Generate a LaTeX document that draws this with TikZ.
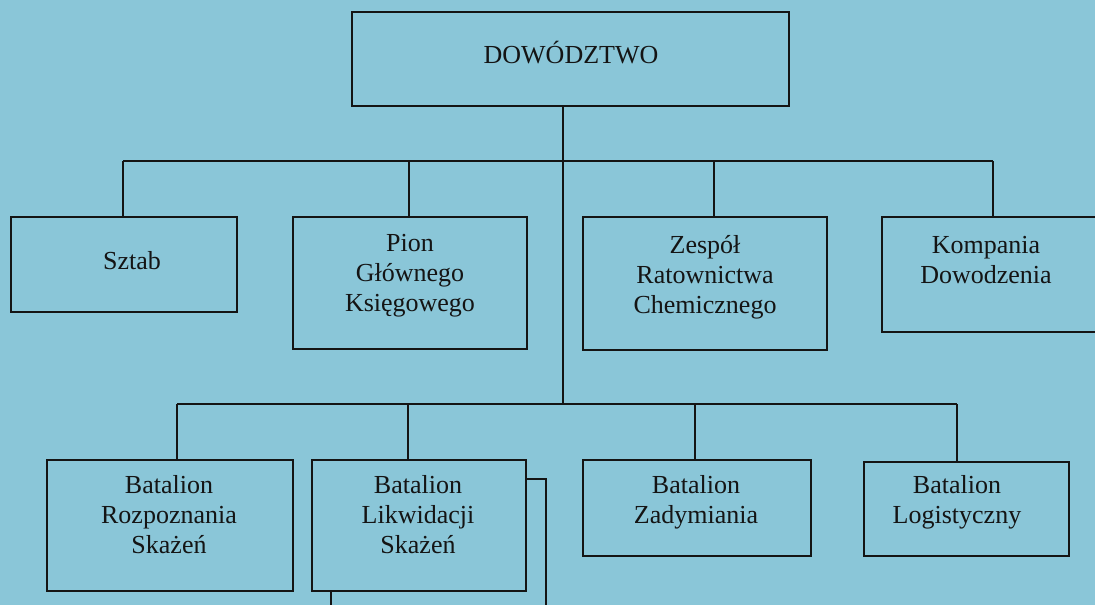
\documentclass[tikz,border=0pt]{standalone}
\usepackage{fontspec}
\setmainfont{Liberation Serif}
\definecolor{bgblue}{RGB}{138,198,216}
\definecolor{ink}{RGB}{20,20,20}
\begin{document}
\begin{tikzpicture}[x=1pt,y=1pt,
  box/.style={draw=ink, line width=1.5pt, inner sep=0pt, anchor=center},
  lbl/.style={font=\fontsize{26}{30}\selectfont, align=center, inner sep=0pt, anchor=base, text=ink},
  conn/.style={draw=ink, line width=1.5pt}]
\useasboundingbox (0,0) rectangle (1095,-605);
\fill[bgblue] (0,0) rectangle (1095,-605);
% boxes
\node[box, minimum width=437pt, minimum height=94pt] (dow) at (570.5,-59) {};
\node[box, minimum width=226pt, minimum height=95pt] (sztab) at (124,-264.5) {};
\node[box, minimum width=234pt, minimum height=132pt] (pion) at (410,-283) {};
\node[box, minimum width=244pt, minimum height=133pt] (zesp) at (705,-283.5) {};
\node[box, minimum width=218pt, minimum height=115pt] (komp) at (991,-274.5) {};
\node[box, minimum width=246pt, minimum height=131pt] (rozp) at (170,-525.5) {};
\node[box, minimum width=214pt, minimum height=131pt] (likw) at (419,-525.5) {};
\node[box, minimum width=228pt, minimum height=96pt] (zady) at (697,-508) {};
\node[box, minimum width=205pt, minimum height=94pt] (logi) at (966.5,-509) {};
% texts (anchored at the baseline of the last line)
\node[lbl] (tdow) at (571,-63) {DOWÓDZTWO};
\node[lbl] (tsztab) at (132,-269) {Sztab};
\node[lbl] (tpion) at (410,-311) {Pion\\Głównego\\Księgowego};
\node[lbl] (tzesp) at (705,-313) {Zespół\\Ratownictwa\\Chemicznego};
\node[lbl] (tkomp) at (986,-283) {Kompania\\Dowodzenia};
\node[lbl] (trozp) at (169,-553) {Batalion\\Rozpoznania\\Skażeń};
\node[lbl] (tlikw) at (418,-553) {Batalion\\Likwidacji\\Skażeń};
\node[lbl] (tzady) at (696,-523) {Batalion\\Zadymiania};
\node[lbl] (tlogi) at (957,-523) {Batalion\\Logistyczny};
% connector points
\coordinate (main) at (563,-404);
\coordinate (a1) at (123,-161);
\coordinate (a2) at (409,-161);
\coordinate (a3) at (714,-161);
\coordinate (a4) at (993,-161);
\coordinate (b1) at (177,-404);
\coordinate (b2) at (408,-404);
\coordinate (b3) at (695,-404);
\coordinate (b4) at (957,-404);
\coordinate (e1) at (546,-479);
\coordinate (e2) at (546,-612);
\coordinate (f1) at (331,-612);
% connectors
\draw[conn] (dow.south -| main) -- (main);
\draw[conn] (a1) -- (a4);
\draw[conn] (a1) -- (a1 |- sztab.north);
\draw[conn] (a2) -- (a2 |- pion.north);
\draw[conn] (a3) -- (a3 |- zesp.north);
\draw[conn] (a4) -- (a4 |- komp.north);
\draw[conn] (b1) -- (b4);
\draw[conn] (b1) -- (b1 |- rozp.north);
\draw[conn] (b2) -- (b2 |- likw.north);
\draw[conn] (b3) -- (b3 |- zady.north);
\draw[conn] (b4) -- (b4 |- logi.north);
\draw[conn] (likw.east |- e1) -- (e1) -- (e2);
\draw[conn] (f1 |- likw.south) -- (f1);
\end{tikzpicture}
\end{document}
